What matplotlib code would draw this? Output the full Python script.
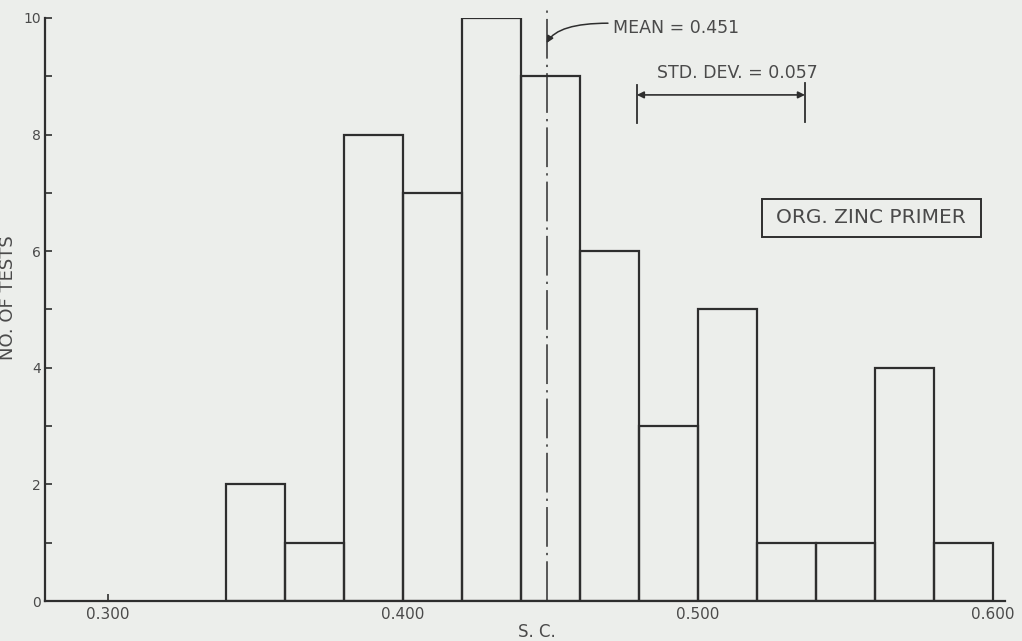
import matplotlib
matplotlib.use("Agg")
import matplotlib.pyplot as plt
from matplotlib.patches import Rectangle

# Data
bin_left_edges = [0.34, 0.36, 0.38, 0.40, 0.42, 0.44, 0.46, 0.48, 0.50, 0.52, 0.54, 0.56, 0.58]
counts = [2, 1, 8, 7, 10, 9, 6, 3, 5, 1, 1, 4, 1]
bin_width = 0.02
x_ticks = [0.300, 0.400, 0.500, 0.600]
x_tick_labels = ["0.300", "0.400", "0.500", "0.600"]
y_ticks = [0, 2, 4, 6, 8, 10]
y_minor_ticks = [1, 3, 5, 7, 9]
mean_value = 0.451
mean_line_x = 0.4487
std_value = 0.057
std_start = 0.4793

bg = "#eceeeb"
ink = "#2e2e2e"
txt = "#4a4a4a"

plt.rcParams['font.family'] = ['DejaVu Sans']

fig = plt.figure(figsize=(10.22, 6.41), dpi=100, facecolor=bg)
ax = fig.add_axes([0.0440, 0.0624, 0.9393, 0.9096])
ax.set_facecolor(bg)

ax.bar(bin_left_edges, counts, width=bin_width, align='edge', fill=False,
       edgecolor=ink, linewidth=1.6)

ax.set_xlim(0.2786, 0.6041)
ax.set_ylim(0, 10)

for s in ['top', 'right']:
    ax.spines[s].set_visible(False)
for s in ['left', 'bottom']:
    ax.spines[s].set_color(ink)
    ax.spines[s].set_linewidth(1.6)

ax.set_xticks(x_ticks)
ax.set_xticklabels(x_tick_labels)
ax.set_yticks(y_ticks)
ax.set_yticks(y_minor_ticks, minor=True)
ax.tick_params(axis='both', which='both', direction='in', length=5, width=1.2,
               color=ink, labelcolor=txt)
ax.tick_params(axis='x', which='minor', length=0)
ax.tick_params(axis='y', pad=3, labelsize=10)
ax.tick_params(axis='x', pad=4, labelsize=11)

# Axis labels
ax.text(0.5125, -0.053, "S. C.", color=txt, fontsize=12, ha='center',
        va='center', transform=ax.transAxes)
ax.set_ylabel("NO. OF TESTS", color=txt, fontsize=13)
ax.yaxis.set_label_coords(-0.029, 0.521)

# Mean line
ax.plot([mean_line_x, mean_line_x], [0.0, 10.14], color=ink, linewidth=1.1,
        linestyle=(0, (26, 4, 1.5, 4)), clip_on=False)

# Mean annotation
ax.text(0.4712, 9.83, f"MEAN = {mean_value:.3f}", color=txt, fontsize=12.5,
        va='center', ha='left')
ax.annotate("", xy=(mean_line_x, 9.57), xytext=(0.4695, 9.91),
            arrowprops=dict(arrowstyle='-|>', color=ink, lw=1.1,
                            connectionstyle="angle3,angleA=0,angleB=60",
                            shrinkA=0, shrinkB=0, mutation_scale=10),
            annotation_clip=False)

# Std dev annotation
std_end = std_start + std_value
ax.text(0.4861, 9.06, f"STD. DEV. = {std_value:.3f}", color=txt,
        fontsize=12.5, va='center', ha='left')
ax.annotate("", xy=(std_start, 8.68), xytext=(std_end, 8.68),
            arrowprops=dict(arrowstyle='<|-|>', color=ink, lw=1.2,
                            shrinkA=0, shrinkB=0, mutation_scale=10))
ax.plot([std_start, std_start], [8.20, 8.85], color=ink, lw=1.3)
ax.plot([std_end, std_end], [8.22, 8.88], color=ink, lw=1.3)

# Label box
ax.add_patch(Rectangle((0.5217, 6.244), 0.5959 - 0.5217, 6.895 - 6.244,
                       fill=False, edgecolor=ink, lw=1.4))
ax.text(0.5588, 6.57, "ORG. ZINC PRIMER", color=txt, fontsize=14.5,
        ha='center', va='center')

fig.savefig("out.png", dpi=100, facecolor=bg)
